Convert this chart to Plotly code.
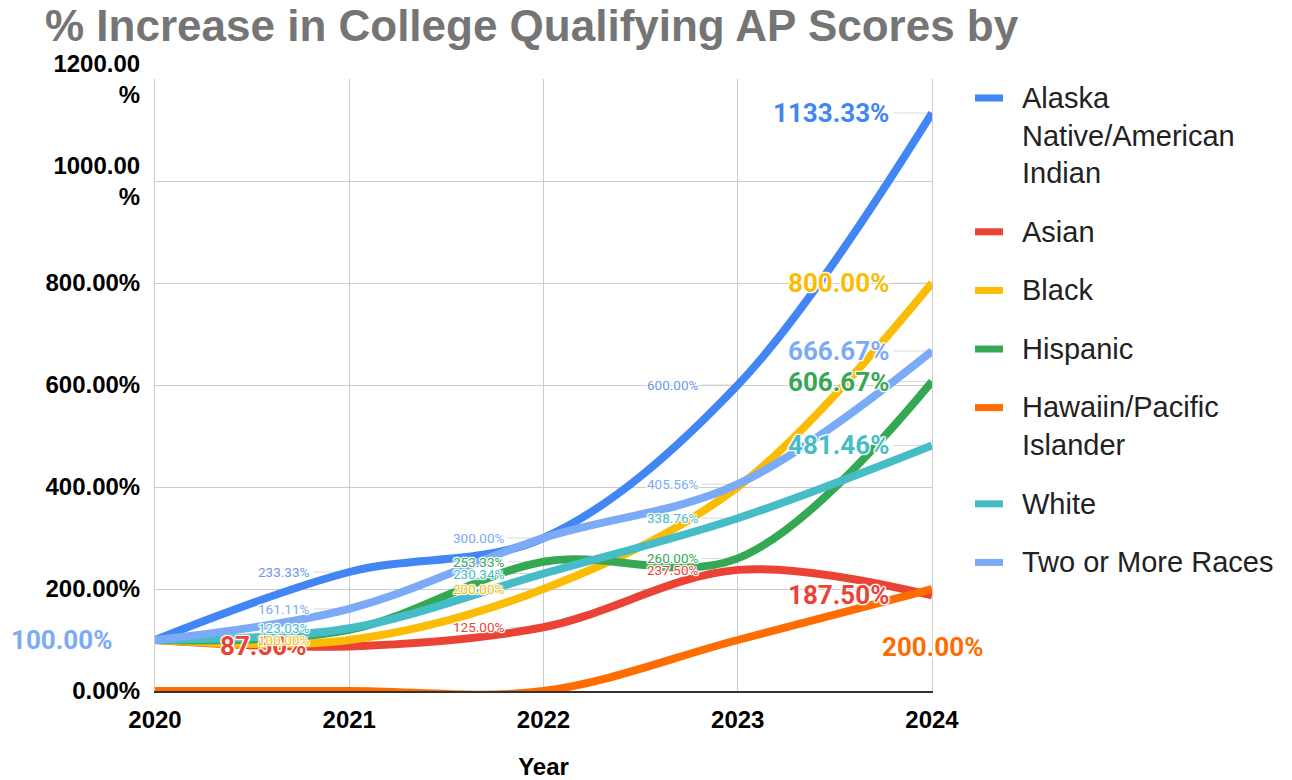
import plotly.graph_objects as go

# ---------------- data ----------------
years = [2020, 2021, 2022, 2023, 2024]
series_names = [
    "Alaska<br>Native/American<br>Indian",
    "Asian",
    "Black",
    "Hispanic",
    "Hawaiin/Pacific<br>Islander",
    "White",
    "Two or More Races",
]
alaska = [100.00, 233.33, 300.00, 600.00, 1133.33]
asian = [100.00, 87.50, 125.00, 237.50, 187.50]
black = [100.00, 100.00, 200.00, 400.00, 800.00]
hispanic = [100.00, 120.00, 253.33, 260.00, 606.67]
hawaiian = [0.00, 0.00, 0.00, 100.00, 200.00]
white = [100.00, 123.03, 230.34, 338.76, 481.46]
two_more = [100.00, 161.11, 300.00, 405.56, 666.67]
y_ticks = [0, 200, 400, 600, 800, 1000, 1200]
y_tick_labels = ["0.00%", "200.00%", "400.00%", "600.00%", "800.00%",
                 "1000.00<br>%", "1200.00<br>%"]

# ---------------- style ----------------
colors = ["#4285F4", "#EA4335", "#FBBC04", "#34A853", "#FF6D01", "#46BDC6", "#7BAAF7"]
small_label_colors = ["#6f96e8", "#EA4335", "#FBBC04", "#34A853", "#FF6D01", "#46BDC6", "#7BAAF7"]
all_values = [alaska, asian, black, hispanic, hawaiian, white, two_more]
# which point labels are shown (index into years) and their style
label_cfg = [
    {1: "s", 3: "s", 4: "L"},
    {1: "L", 2: "s", 3: "s", 4: "L"},
    {1: "s", 2: "s", 4: "L"},
    {2: "s", 3: "s", 4: "L"},
    {4: "below"},
    {1: "s", 2: "s", 3: "s", 4: "L"},
    {0: "L", 1: "s", 2: "s", 3: "s", 4: "L"},
]

halo = ("1px 1px 1px #fff, -1px -1px 1px #fff, 1px -1px 1px #fff, -1px 1px 1px #fff, "
        "0px 1px 1px #fff, 0px -1px 1px #fff, 1px 0px 1px #fff, -1px 0px 1px #fff")

W, H = 1284, 772  # page body has an 8px margin
L_M, T_M, PW, PH = 147, 71, 777, 612

fig = go.Figure()
for name, vals, col in zip(series_names, all_values, colors):
    fig.add_trace(go.Scatter(
        x=years, y=vals, name=name.replace("<br>", " "), mode="lines",
        line=dict(color=col, width=8, shape="spline", smoothing=1.0),
        hoverinfo="skip", showlegend=False,
    ))

annotations = []
shapes = []
for vals, col, scol, cfg in zip(all_values, colors, small_label_colors, label_cfg):
    for i, kind in cfg.items():
        txt = f"{vals[i]:.2f}%"
        if kind == "below":
            annotations.append(dict(
                x=years[i], y=vals[i], xref="x", yref="y", text=txt, showarrow=False,
                xanchor="center", yanchor="middle", yshift=-58,
                font=dict(family="Roboto", size=26, color=col, weight=700, shadow=halo),
            ))
            continue
        big = kind == "L"
        gap = 41 if big else 38
        shapes.append(dict(
            type="line", xref="x", yref="y", xsizemode="pixel", xanchor=years[i],
            x0=-gap + 2, x1=0, y0=vals[i], y1=vals[i], layer="below",
            line=dict(color="#d9d9d9", width=1),
        ))
        annotations.append(dict(
            x=years[i], y=vals[i], xref="x", yref="y", text=txt, showarrow=False,
            xanchor="right", yanchor="middle", xshift=-gap,
            font=dict(family="Roboto", size=26 if big else 13.5,
                      color=col if big else scol,
                      weight=700 if big else 400, shadow=halo),
        ))

# ---------------- legend (drawn manually) ----------------
LEG_FONT = 29
LINE_H = 37.6
ITEM_GAP = 21
sym_x0, sym_x1, text_x = 967, 995, 1012  # figure px
y_cursor = 90  # first line centre, figure px
for name, col in zip(series_names, colors):
    n_lines = name.count("<br>") + 1
    shapes.append(dict(
        type="line", xref="paper", yref="paper",
        x0=(sym_x0 - L_M) / PW, x1=(sym_x1 - L_M) / PW,
        y0=(T_M + PH - y_cursor) / PH, y1=(T_M + PH - y_cursor) / PH,
        line=dict(color=col, width=7),
    ))
    centre = y_cursor + (n_lines - 1) * LINE_H / 2
    annotations.append(dict(
        xref="paper", yref="paper", x=(text_x - L_M) / PW, y=(T_M + PH - centre) / PH,
        xanchor="left", yanchor="middle", align="left", showarrow=False,
        text=name, font=dict(family="Liberation Sans", size=LEG_FONT, color="#222222"),
    ))
    y_cursor += n_lines * LINE_H + ITEM_GAP

fig.update_layout(
    width=W, height=H,
    margin=dict(l=L_M, r=W - L_M - PW, t=T_M, b=H - T_M - PH, autoexpand=False),
    paper_bgcolor="white", plot_bgcolor="white",
    title=dict(
        text="% Increase in College Qualifying AP Scores by",
        x=37 / W, xanchor="left", xref="container",
        y=1 - 18 / H, yanchor="middle", yref="container",
        font=dict(family="Liberation Sans", size=44, color="#757575", weight=700),
    ),
    font=dict(family="Liberation Sans", color="#000000"),
    xaxis=dict(
        range=[2020, 2024], tickmode="array", tickvals=years,
        ticktext=[str(y) for y in years],
        showgrid=True, gridcolor="#cccccc", gridwidth=1,
        showline=True, linecolor="#333333", linewidth=2,
        zeroline=False, ticks="", ticklabelstandoff=6,
        tickfont=dict(family="Liberation Sans", size=24, color="#000000", weight=700),
        title=dict(text="Year", standoff=27,
                   font=dict(family="Liberation Sans", size=24, color="#000000", weight=700)),
    ),
    yaxis=dict(
        range=[0, 1200], tickmode="array", tickvals=y_ticks, ticktext=y_tick_labels,
        showgrid=True, gridcolor="#cccccc", gridwidth=1,
        showline=True, linecolor="#cccccc", linewidth=1, mirror=True,
        zeroline=False, ticks="", ticklabelstandoff=9,
        tickfont=dict(family="Liberation Sans", size=24, color="#000000", weight=700),
    ),
    annotations=annotations,
    shapes=shapes,
    showlegend=False,
)

fig.write_html("out.html")
